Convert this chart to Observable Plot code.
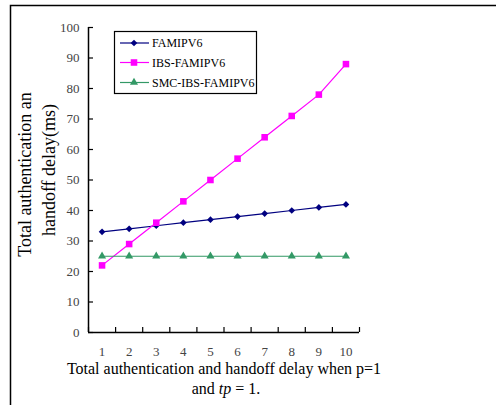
<!DOCTYPE html>
<html><head><meta charset="utf-8">
<script src="https://cdn.jsdelivr.net/npm/d3@7"></script>
<script src="https://cdn.jsdelivr.net/npm/@observablehq/plot@0.6"></script>
<style>body{margin:0;background:#fff} svg{display:block} svg text{font-variant-ligatures:none;font-feature-settings:"liga" 0,"clig" 0}</style>
</head><body><div id="chart"></div>
<script>
const categories = [1, 2, 3, 4, 5, 6, 7, 8, 9, 10];
const famipv6 = [33, 34, 35, 36, 37, 38, 39, 40, 41, 42];
const ibsFamipv6 = [22, 29, 36, 43, 50, 57, 64, 71, 78, 88];
const smcIbsFamipv6 = [25, 25, 25, 25, 25, 25, 25, 25, 25, 25];
const seriesNames = ["FAMIPV6", "IBS-FAMIPV6", "SMC-IBS-FAMIPV6"];
const yTicks = [0, 10, 20, 30, 40, 50, 60, 70, 80, 90, 100];
const xLabel = "Total authentication and handoff delay when p=1";
const yLabelLines = ["Total authentication and", "handoff delay(ms)"];

const colors = ["#000080", "#FF00FF", "#339966"];
const symbols = ["diamond2", "square", "triangle"];
const radii = [3.0, 3.7, 3.0];
const serif = "Liberation Serif";

const seriesValues = [famipv6, ibsFamipv6, smcIbsFamipv6];
const rows = seriesNames.flatMap((s, i) => categories.map((c, j) => ({series: s, x: c, y: seriesValues[i][j]})));
const boundaries = [...categories.map(c => c - 0.5), categories[categories.length - 1] + 0.5];

const W = 496, H = 405, mL = 88, mR = 137, mT = 27, mB = 73;
const innerW = W - mL - mR, innerH = H - mT - mB;

const plot = Plot.plot({
  width: W, height: H,
  marginLeft: mL, marginRight: mR, marginTop: mT, marginBottom: mB,
  style: {fontFamily: serif, background: "white", overflow: "visible"},
  x: {type: "linear", domain: [boundaries[0], boundaries[boundaries.length - 1]]},
  y: {domain: [0, 100]},
  color: {domain: seriesNames, range: colors},
  marks: [
    Plot.axisX({ticks: categories, tickSize: 0, tickPadding: 14, fontSize: 13, fill: "#444", label: null, tickFormat: d => String(d)}),
    Plot.axisY({ticks: yTicks, tickSize: 0, tickPadding: 9, fontSize: 13, fill: "#444", label: null}),
    Plot.tickX(boundaries, {x: d => d, insetTop: innerH - 5, stroke: "#000", strokeWidth: 1.2}),
    Plot.tickY(yTicks, {y: d => d, insetRight: innerW - 5, stroke: "#000", strokeWidth: 1.2}),
    Plot.ruleX([boundaries[0]], {stroke: "#000", strokeWidth: 1.5}),
    Plot.ruleY([0], {stroke: "#000", strokeWidth: 1.5}),
    Plot.line(rows, {x: "x", y: "y", z: "series", stroke: "series", strokeWidth: 1.2}),
    ...seriesNames.map((s, i) => Plot.dot(rows.filter(r => r.series === s), {x: "x", y: "y", symbol: symbols[i], fill: colors[i], stroke: "none", r: radii[i]}))
  ]
});

const svg = d3.select(plot);

// y label (rotated), overflow above the label box hidden
const yl = svg.append("g");
yLabelLines.forEach((t, i) => {
  yl.append("text").attr("transform", `translate(${[31, 55][i]},170) rotate(-90)`)
    .attr("text-anchor", "middle").attr("font-family", serif).attr("font-size", 18).attr("fill", "#000").text(t);
});
svg.append("rect").attr("x", 12).attr("y", 6).attr("width", 26).attr("height", 86).attr("fill", "white");

// outer frame
svg.append("path").attr("d", `M10.5,${H}V5.5H${W}`).attr("fill", "none").attr("stroke", "#000").attr("stroke-width", 1.5);

// x label
const xl = svg.append("g").attr("text-anchor", "middle").attr("font-family", serif).attr("font-size", 16).attr("fill", "#000");
xl.append("text").attr("x", 224).attr("y", 374).text(xLabel);
const t2 = xl.append("text").attr("x", 226).attr("y", 394);
t2.append("tspan").text("and ");
t2.append("tspan").attr("font-style", "italic").text("tp");
t2.append("tspan").text(" = 1.");

// legend
const lg = svg.append("g").attr("font-family", serif).attr("font-size", 12);
lg.append("rect").attr("x", 114.5).attr("y", 31.5).attr("width", 142).attr("height", 62).attr("fill", "white").attr("stroke", "#000").attr("stroke-width", 1.2);
const legendY = [43, 62.5, 82.5];
seriesNames.forEach((s, i) => {
  const y = legendY[i];
  lg.append("line").attr("x1", 120).attr("x2", 149).attr("y1", y).attr("y2", y).attr("stroke", colors[i]).attr("stroke-width", 1.2);
  const sym = {diamond2: d3.symbolDiamond2, square: d3.symbolSquare, triangle: d3.symbolTriangle}[symbols[i]];
  lg.append("path").attr("transform", `translate(134,${y})`).attr("d", d3.symbol(sym, Math.PI * radii[i] * radii[i])()).attr("fill", colors[i]);
  lg.append("text").attr("x", 152).attr("y", y).attr("dy", "0.35em").attr("text-anchor", "start").attr("fill", "#000").text(s);
});

document.getElementById("chart").appendChild(plot);
</script>
</body></html>
